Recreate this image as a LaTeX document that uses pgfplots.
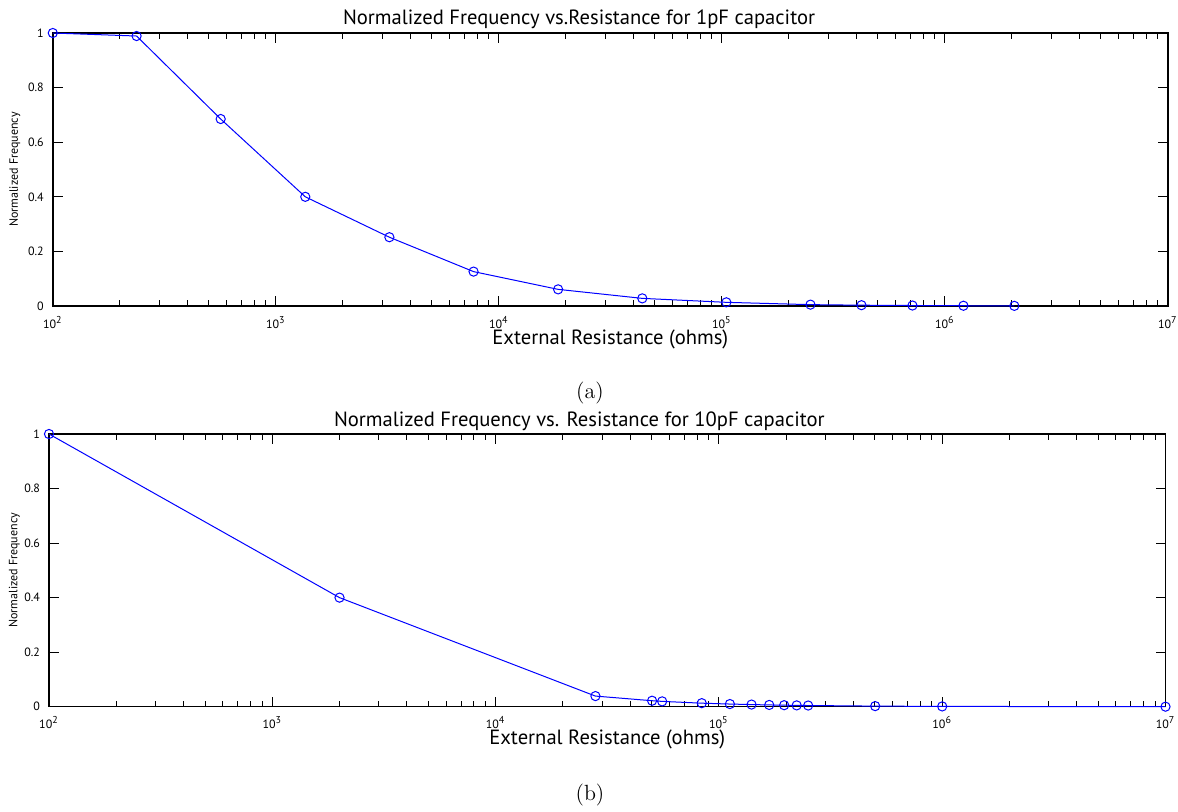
\documentclass[border=0pt]{standalone}
\usepackage{fontspec}
\usepackage{pgfplots}
\pgfplotsset{compat=1.18}
\newfontfamily\myriad{PT Sans}
\definecolor{mblue}{RGB}{0,0,255}

\pgfplotsset{
  mlaxis/.style={
    scale only axis, clip=false,
    xmin=1e2, xmax=1e7, ymin=0, ymax=1,
    xtick={1e2,1e3,1e4,1e5,1e6,1e7},
    xticklabels={10\textsuperscript{2},10\textsuperscript{3},10\textsuperscript{4},10\textsuperscript{5},10\textsuperscript{6},10\textsuperscript{7}},
    minor xtick={200,300,400,500,600,700,800,900,
      2000,3000,4000,5000,6000,7000,8000,9000,
      20000,30000,40000,50000,60000,70000,80000,90000,
      200000,300000,400000,500000,600000,700000,800000,900000,
      2000000,3000000,4000000,5000000,6000000,7000000,8000000,9000000},
    ytick={0,0.2,0.4,0.6,0.8,1},
    yticklabels={0,0.2,0.4,0.6,0.8,1},
    tick align=inside, xtick pos=both, ytick pos=both,
    major tick length=5pt, minor tick length=2.8pt,
    axis line style={line width=0.75pt},
    every tick/.style={black, line width=0.5pt},
    tick label style={font=\myriad\fontsize{6}{7}\selectfont},
    xticklabel style={yshift=-1.5pt},
    yticklabel style={xshift=-1pt},
    label style={font=\myriad\fontsize{10.3}{12}\selectfont},
    every axis title shift=0pt,
    title style={font=\myriad\fontsize{10.3}{12}\selectfont, anchor=base},
    xlabel style={at={(axis description cs:0.5,0)}, anchor=base, yshift=-19pt},
    ylabel style={font=\myriad\fontsize{6}{7}\selectfont, anchor=center},
    xlabel={External Resistance (ohms)},
    ylabel={Normalized Frequency},
  },
  mlcurve/.style={mblue, line width=0.5pt, mark=o, mark size=2.3pt, mark options={line width=0.5pt}},
}

\begin{document}
\begin{tikzpicture}
\useasboundingbox (0,0) rectangle (589pt,-405.5pt);

% (a) 1pF
\begin{axis}[xmode=log, mlaxis, at={(26.4pt,-153pt)}, anchor=south west,
  width=557.5pt, height=136.5pt,
  title={Normalized Frequency vs.Resistance for 1pF capacitor},
  title style={at={(axis description cs:0.472,1)}, yshift=4.2pt},
  ylabel style={at={(axis description cs:-0.034,0.5)}}]
\addplot[mlcurve] coordinates {
  (100,1) (237.5,0.989) (566,0.685) (1356,0.400) (3231,0.252) (7707,0.126)
  (18450,0.061) (44000,0.028) (104800,0.0135) (249800,0.005) (423000,0.003)
  (716000,0.0018) (1212000,0.001) (2050000,0.0006)};
\end{axis}

% (b) 10pF
\begin{axis}[xmode=log, mlaxis, at={(24.5pt,-353.35pt)}, anchor=south west,
  width=558.25pt, height=136.35pt,
  title={Normalized Frequency vs. Resistance for 10pF capacitor},
  title style={at={(axis description cs:0.475,1)}, yshift=4pt},
  ylabel style={at={(axis description cs:-0.031,0.5)}}]
\addplot[mlcurve] coordinates {
  (100,1) (2000,0.400) (28000,0.039) (50200,0.022) (55700,0.0196) (83800,0.013)
  (112000,0.0098) (140000,0.0079) (168000,0.0065) (196000,0.0056) (223000,0.0049)
  (251000,0.0044) (501000,0.0022) (1000000,0.0011) (10000000,0.0001)};
\end{axis}

\node[anchor=base, font=\fontsize{11}{13}\selectfont] at (295pt,-199.4pt) {(a)};
\node[anchor=base, font=\fontsize{11}{13}\selectfont] at (295pt,-400.35pt) {(b)};
\end{tikzpicture}
\end{document}
